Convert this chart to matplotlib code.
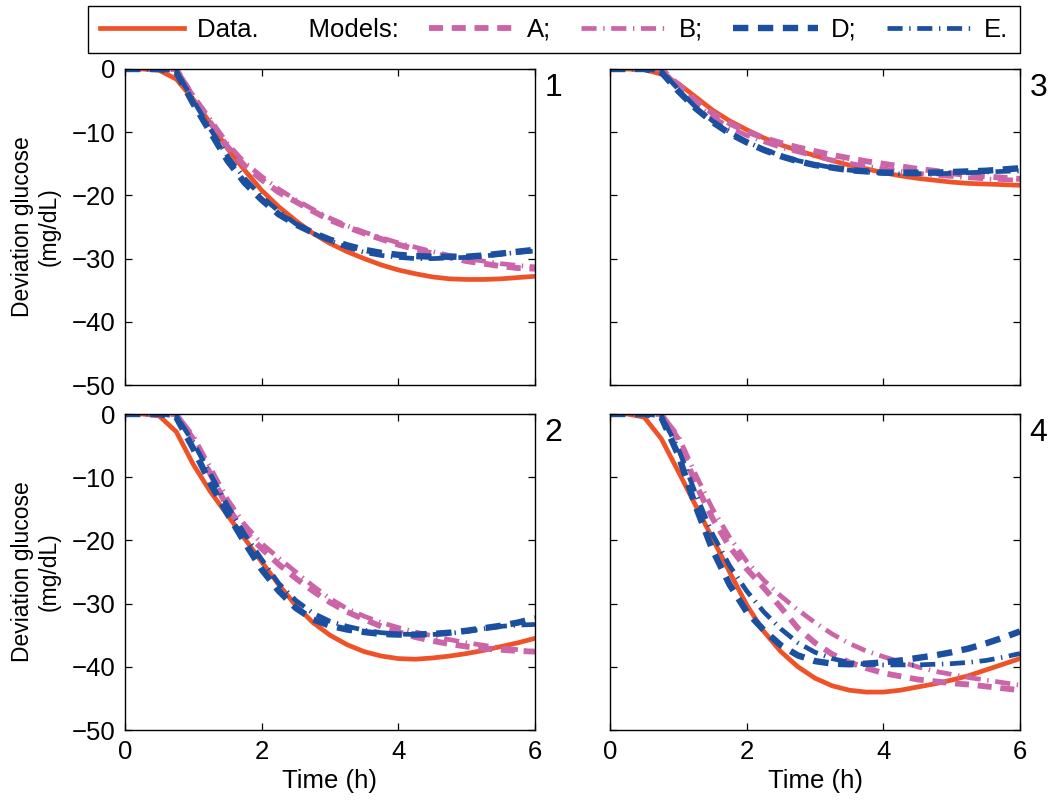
import matplotlib
matplotlib.use('Agg')
import matplotlib.pyplot as plt

plt.rcParams['font.family'] = ['Liberation Sans', 'DejaVu Sans']

# time grid (h)
hours = [0, 0.25, 0.5, 0.75, 1, 1.25, 1.5, 1.75, 2, 2.25, 2.5, 2.75, 3,
         3.25, 3.5, 3.75, 4, 4.25, 4.5, 4.75, 5, 5.25, 5.5, 5.75, 6]

# panel 1
data_p1 = [0, 0, -0.2, -1.6, -4.8, -8.6, -12.6, -16, -19.2, -21.8, -24, -26, -27.6,
           -28.9, -30, -31, -31.8, -32.4, -32.9, -33.2, -33.3, -33.3, -33.2, -33, -32.8]
a_p1 = [0, 0, 0, 0, -4.5, -8.5, -12.3, -15.3, -17.5, -19.5, -21, -22.5, -23.9,
        -25, -26, -26.9, -27.8, -28.5, -29.2, -29.8, -30.4, -30.8, -31.2, -31.5, -31.6]
b_p1 = [0, 0, 0, 0, -4.2, -8, -11.8, -14.8, -17, -19, -20.7, -22.2, -23.6,
        -24.8, -25.8, -26.7, -27.5, -28.2, -28.9, -29.5, -30, -30.4, -30.8, -31.1, -31.3]
d_p1 = [0, 0, 0, -0.5, -5.5, -10, -14.5, -18, -20.7, -23, -24.6, -25.9, -27,
        -27.9, -28.6, -29.1, -29.4, -29.6, -29.7, -29.7, -29.7, -29.5, -29.2, -28.9, -28.6]
e_p1 = [0, 0, 0, -0.3, -5, -9.5, -13.8, -17.3, -20.2, -22.5, -24.5, -26, -27.2,
        -28.2, -29, -29.5, -29.8, -30, -30, -29.9, -29.8, -29.6, -29.3, -29, -28.8]

# panel 2
data_p2 = [0, 0, -0.3, -2.8, -8, -12.3, -16, -19.7, -23.4, -27, -30.3, -33, -35,
           -36.5, -37.6, -38.3, -38.7, -38.8, -38.6, -38.3, -37.9, -37.4, -36.8, -36.2, -35.5]
a_p2 = [0, 0, 0, 0, -4, -9.5, -14.8, -18.5, -21.3, -23.8, -26, -28, -29.8,
        -31.3, -32.5, -33.6, -34.5, -35.3, -35.9, -36.4, -36.8, -37.1, -37.3, -37.5, -37.6]
b_p2 = [0, 0, 0, 0, -3.5, -8.5, -13.5, -17.5, -20.5, -22.8, -25, -27.2, -29.2,
        -30.8, -32, -33, -33.8, -34.5, -35.1, -35.7, -36.2, -36.6, -37, -37.3, -37.6]
d_p2 = [0, 0, 0, -0.5, -5.5, -11, -15.8, -20.3, -24.6, -28, -30.7, -32.5, -33.5,
        -34.1, -34.5, -34.8, -34.9, -34.9, -34.8, -34.6, -34.3, -33.9, -33.5, -33, -32.3]
e_p2 = [0, 0, 0, -0.3, -4.5, -9.5, -14.5, -19, -23, -26.8, -29.5, -31.5, -32.8,
        -33.6, -34.2, -34.6, -34.8, -34.9, -34.9, -34.7, -34.4, -34, -33.6, -33.4, -33.3]

# panel 3
data_p3 = [0, 0, -0.1, -0.8, -2.3, -4.4, -6.5, -8.2, -9.6, -10.9, -12, -12.9, -13.7,
           -14.5, -15.2, -15.8, -16.4, -16.9, -17.3, -17.6, -17.9, -18.1, -18.2, -18.3, -18.4]
a_p3 = [0, 0, 0, 0, -2.5, -5, -7, -8.6, -9.9, -10.9, -11.7, -12.4, -13,
        -13.6, -14.1, -14.6, -15, -15.4, -15.8, -16.1, -16.5, -16.8, -17, -17.2, -17.4]
b_p3 = [0, 0, 0, 0, -2.8, -5.5, -7.6, -9.2, -10.5, -11.5, -12.4, -13.1, -13.8,
        -14.4, -14.9, -15.4, -15.8, -16.2, -16.5, -16.8, -17, -17.2, -17.4, -17.5, -17.6]
d_p3 = [0, 0, 0, -0.5, -3.5, -6.2, -8.4, -10.2, -11.6, -12.8, -13.8, -14.6, -15.2,
        -15.6, -16, -16.2, -16.4, -16.4, -16.4, -16.4, -16.3, -16.2, -16.1, -15.9, -15.7]
e_p3 = [0, 0, 0, -0.3, -3.2, -6, -8.2, -10, -11.5, -12.7, -13.7, -14.5, -15.1,
        -15.6, -16, -16.3, -16.5, -16.6, -16.6, -16.6, -16.5, -16.4, -16.3, -16.2, -16.1]

# panel 4
data_p4 = [0, 0, -0.5, -3.9, -9.1, -14.4, -19.7, -25, -30.2, -34.4, -37.6, -40, -41.8,
           -43, -43.7, -44, -44, -43.7, -43.2, -42.7, -42.1, -41.4, -40.5, -39.6, -38.7]
a_p4 = [0, 0, 0, 0, -4, -11, -16.5, -21, -24.5, -27.5, -30.6, -33.9, -36.2,
        -38, -39.3, -40.2, -41, -41.5, -42, -42.3, -42.6, -42.8, -43.1, -43.4, -43.7]
b_p4 = [0, 0, 0, 0, -3.5, -9.5, -15, -19.5, -23.3, -26.3, -28.8, -31, -33,
        -34.8, -36.3, -37.5, -38.4, -39.2, -40, -40.7, -41.2, -41.7, -42.1, -42.5, -42.9]
d_p4 = [0, 0, 0, -0.5, -6.5, -14.5, -21.5, -27, -31.3, -34.2, -36.6, -38.2, -39.1,
        -39.5, -39.6, -39.5, -39.3, -39, -38.6, -38.2, -37.7, -37.1, -36.3, -35.4, -34.4]
e_p4 = [0, 0, 0, -0.3, -5.5, -12.5, -19, -24, -28, -31.3, -34, -36.2, -37.7,
        -38.7, -39.3, -39.6, -39.7, -39.7, -39.7, -39.6, -39.5, -39.3, -39, -38.5, -37.9]

RED = '#F05228'
PINK = '#CC64A8'
BLUE = '#1B4FA0'

styles = {
    'data': dict(color=RED, lw=3.4, ls='-'),
    'A': dict(color=PINK, lw=4.2, dashes=(2.4, 1.5)),
    'B': dict(color=PINK, lw=3.4, dashes=(3.2, 1.4, 0.3, 1.4)),
    'D': dict(color=BLUE, lw=4.6, dashes=(2.4, 1.5)),
    'E': dict(color=BLUE, lw=3.4, dashes=(3.2, 1.4, 0.3, 1.4)),
}

panels = {
    '1': (data_p1, a_p1, b_p1, d_p1, e_p1),
    '2': (data_p2, a_p2, b_p2, d_p2, e_p2),
    '3': (data_p3, a_p3, b_p3, d_p3, e_p3),
    '4': (data_p4, a_p4, b_p4, d_p4, e_p4),
}

FS = 18.5
fig = plt.figure(figsize=(10.5, 8.05), dpi=100)

W, H = 1050, 805
ax_w = 410 / W
ax_h = 316 / H
lefts = {'1': 125 / W, '2': 125 / W, '3': 610 / W, '4': 610 / W}
tops = {'1': 69, '3': 69, '2': 414, '4': 414}

handles = None
for name, (dat, a, b, d, e) in panels.items():
    ax = fig.add_axes([lefts[name], 1 - (tops[name] + 316) / H, ax_w, ax_h])
    h0, = ax.plot(hours, dat, **styles['data'])
    h1, = ax.plot(hours, a, **styles['A'])
    h2, = ax.plot(hours, b, **styles['B'])
    h3, = ax.plot(hours, d, **styles['D'])
    h4, = ax.plot(hours, e, **styles['E'])
    handles = [h0, h1, h2, h3, h4]

    ax.set_xlim(0, 6)
    ax.set_ylim(-50, 0)
    ax.set_xticks([0, 2, 4, 6])
    ax.set_yticks([0, -10, -20, -30, -40, -50])
    ax.tick_params(direction='in', length=5, width=0.9, top=True, right=True,
                   labelsize=FS, pad=7)
    for s in ax.spines.values():
        s.set_linewidth(1.0)

    if name in ('1', '3'):
        ax.tick_params(labelbottom=False)
    else:
        ax.set_xlabel('Time (h)', fontsize=FS, labelpad=4)
    if name in ('3', '4'):
        ax.tick_params(labelleft=False)
    else:
        ax.set_ylabel('Deviation glucose\n(mg/dL)', fontsize=16.5,
                      labelpad=8, linespacing=1.2)

    ax.text(1.045, 0.94, name, transform=ax.transAxes, fontsize=23,
            ha='center', va='center')

labels = ['Data.       Models:', 'A;', 'B;', 'D;', 'E.']
leg = fig.legend(handles, labels, loc='upper left', ncol=5, mode='expand',
                 bbox_to_anchor=(88 / W, 1 - 53 / H, 932 / W, 47 / H),
                 fontsize=FS, frameon=True, fancybox=False, edgecolor='black',
                 framealpha=1, handlelength=3.3, handletextpad=0.5,
                 borderaxespad=0, borderpad=0.45)
leg.get_frame().set_linewidth(1.0)

fig.savefig('out.png', dpi=100)
